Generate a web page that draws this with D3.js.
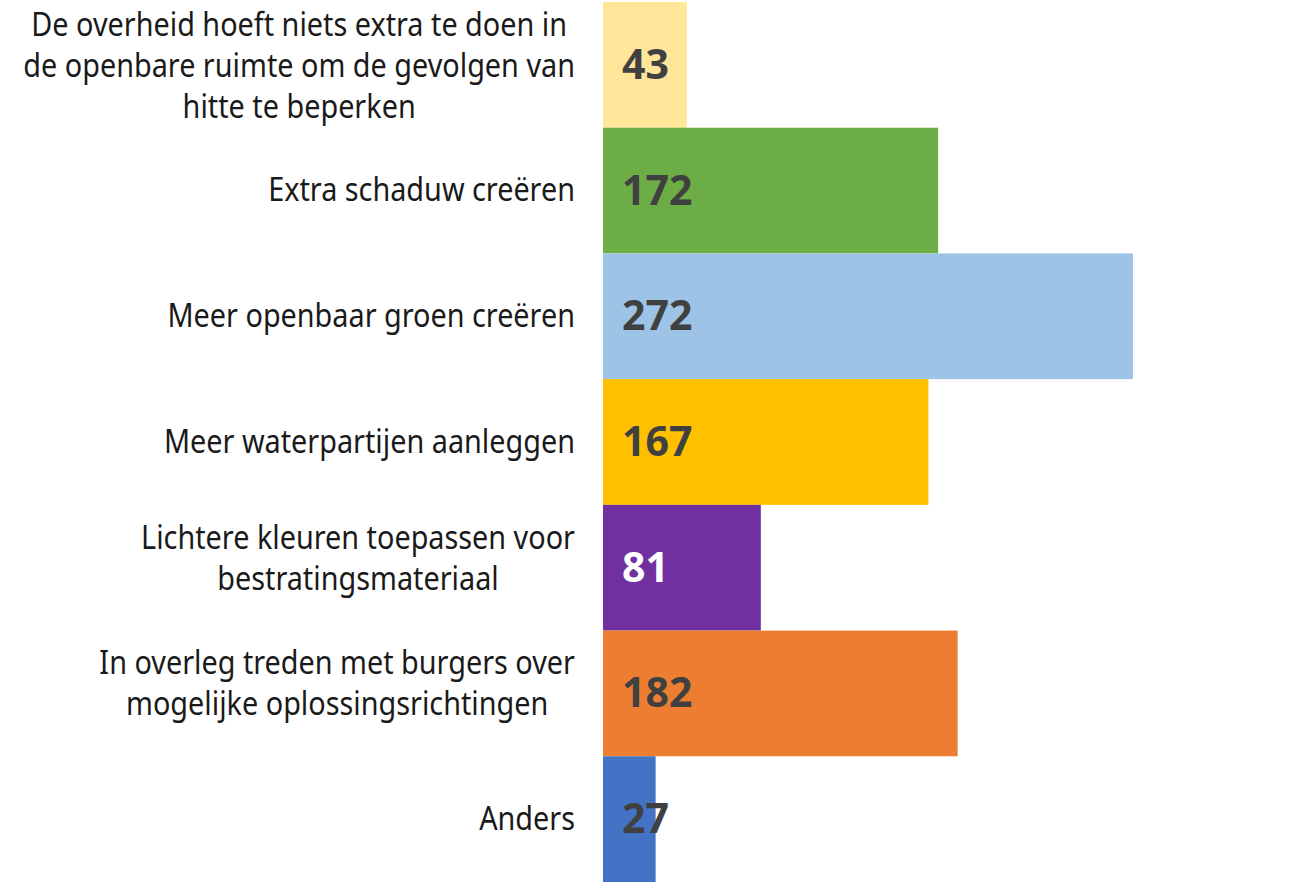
<!DOCTYPE html>
<html>
<head>
<meta charset="utf-8">
<script src="https://cdn.jsdelivr.net/npm/d3@7"></script>
<style>
  body { margin: 0; background: #fff; }
  svg { display: block; }
</style>
</head>
<body>
<svg width="1291" height="888"></svg>
<script>
// answers (top to bottom), label lines, counts, bar colours
const categories = [
  ["De overheid hoeft niets extra te doen in", "de openbare ruimte om de gevolgen van", "hitte te beperken"],
  ["Extra schaduw creëren"],
  ["Meer openbaar groen creëren"],
  ["Meer waterpartijen aanleggen"],
  ["Lichtere kleuren toepassen voor", "bestratingsmateriaal"],
  ["In overleg treden met burgers over", "mogelijke oplossingsrichtingen"],
  ["Anders"]
];
const counts = [43, 172, 272, 167, 81, 182, 27];
const colors = ["#FFE699", "#6CAD45", "#9DC3E6", "#FFC000", "#7030A0", "#ED7D31", "#4472C4"];
const labelColors = ["#404040", "#404040", "#404040", "#404040", "#ffffff", "#404040", "#404040"];

const svg = d3.select("svg");
const x0 = 603, labelRight = 575;

const y = d3.scaleBand()
  .domain(d3.range(counts.length))
  .range([2, 882])
  .padding(0);

const x = d3.scaleLinear()
  .domain([0, 272])
  .range([x0, 1133]);

// bars
svg.selectAll("rect.bar").data(counts).enter().append("rect")
  .attr("class", "bar")
  .attr("x", x(0))
  .attr("y", (d, i) => y(i))
  .attr("width", d => x(d) - x(0))
  .attr("height", y.bandwidth())
  .attr("fill", (d, i) => colors[i]);

// value labels
svg.selectAll("text.val").data(counts).enter().append("text")
  .attr("class", "val")
  .attr("x", x(0) + 19)
  .attr("y", (d, i) => y(i) + y.bandwidth() / 2)
  .attr("dy", "0.34em")
  .attr("font-family", "'Open Sans', sans-serif")
  .attr("font-weight", 700)
  .style("font-size", "41px")
  .attr("fill", (d, i) => labelColors[i])
  .text(d => d);

// category labels: block right-aligned, lines centred within block
const lineH = 41, sx = 0.9;
categories.forEach((lines, i) => {
  const g = svg.append("g");
  const shift = lines.length == 2 ? -9 : (lines.length == 3 ? 2 : 0);
  const cy = y(i) + y.bandwidth() / 2 + shift;
  const texts = lines.map((t, k) => g.append("text")
    .attr("font-family", "'Noto Sans', sans-serif")
    .style("font-size", "32px")
    .attr("fill", "#1a1a1a")
    .attr("text-anchor", "middle")
    .attr("dy", "0.33em")
    .text(t));
  const maxW = d3.max(texts, t => t.node().getComputedTextLength()) * sx;
  const cx = labelRight - maxW / 2;
  texts.forEach((t, k) => {
    const ly = cy + (k - (lines.length - 1) / 2) * lineH;
    t.attr("transform", "translate(" + cx + "," + ly + ") scale(" + sx + ",1)");
  });
});
</script>
</body>
</html>
